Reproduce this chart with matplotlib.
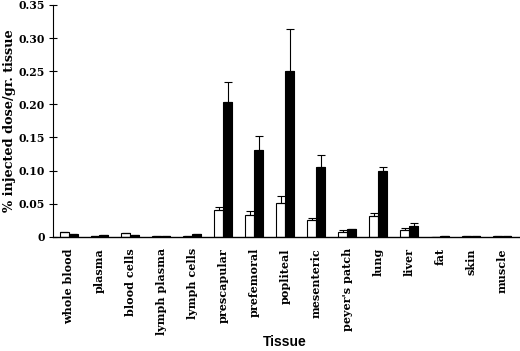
import numpy as np
import matplotlib
matplotlib.use("Agg")
import matplotlib.pyplot as plt

# tissues and values (% injected dose / gr. tissue)
tissues = ["whole blood", "plasma", "blood cells", "lymph plasma", "lymph cells",
           "prescapular", "prefemoral", "popliteal", "mesenteric", "peyer's patch",
           "lung", "liver", "fat", "skin", "muscle"]
white_vals = [0.007, 0.002, 0.006, 0.001, 0.001, 0.040, 0.033, 0.051, 0.025, 0.007,
              0.032, 0.011, 0.000, 0.001, 0.001]
white_err = [0.0, 0.0, 0.0, 0.0, 0.0, 0.005, 0.006, 0.011, 0.004, 0.004,
             0.004, 0.003, 0.0, 0.0, 0.0]
black_vals = [0.005, 0.003, 0.003, 0.001, 0.004, 0.203, 0.131, 0.250, 0.105, 0.012,
              0.099, 0.017, 0.002, 0.001, 0.002]
black_err = [0.0, 0.0, 0.0, 0.0, 0.0, 0.031, 0.022, 0.064, 0.019, 0.0,
             0.007, 0.004, 0.0, 0.0, 0.0]

x = np.arange(len(tissues))
w = 0.29

fig = plt.figure(figsize=(5.2, 3.51), dpi=100)
ax = fig.add_axes([0.102, 0.325, 0.898, 0.661])

zeros = np.zeros(len(tissues))
ax.bar(x - w / 2, white_vals, w, color="white", edgecolor="black", linewidth=0.8,
       yerr=[zeros, white_err], error_kw=dict(ecolor="black", elinewidth=0.8, capsize=3, capthick=0.8))
ax.bar(x + w / 2, black_vals, w, color="black", edgecolor="black", linewidth=0.8,
       yerr=[zeros, black_err], error_kw=dict(ecolor="black", elinewidth=0.8, capsize=3, capthick=0.8))

ax.set_xlim(-0.5, 14.58)
ax.set_ylim(0, 0.35)
ax.set_yticks([0, 0.05, 0.10, 0.15, 0.20, 0.25, 0.30, 0.35])
ax.set_yticklabels(["0", "0.05", "0.10", "0.15", "0.20", "0.25", "0.30", "0.35"],
                   family="DejaVu Serif", fontweight="bold", fontsize=7.8)
ax.set_xticks(x)
ax.set_xticklabels(tissues, rotation=90, family="DejaVu Serif", fontweight="bold", fontsize=8)
ax.tick_params(axis="x", length=0, pad=8)
ax.tick_params(axis="y", direction="inout", length=6, width=0.8, pad=3)

ax.spines["top"].set_visible(False)
ax.spines["right"].set_visible(False)
ax.spines["left"].set_linewidth(0.8)
ax.spines["bottom"].set_linewidth(1.0)

ax.set_ylabel("% injected dose/gr. tissue", family="DejaVu Serif", fontweight="bold", fontsize=9.3)
ax.yaxis.set_label_coords(-0.08, 0.5)
fig.text(0.548, 0.005, "Tissue", family="Liberation Sans", fontweight="bold", fontsize=10,
         ha="center", va="bottom")

fig.savefig("out.png", dpi=100)
